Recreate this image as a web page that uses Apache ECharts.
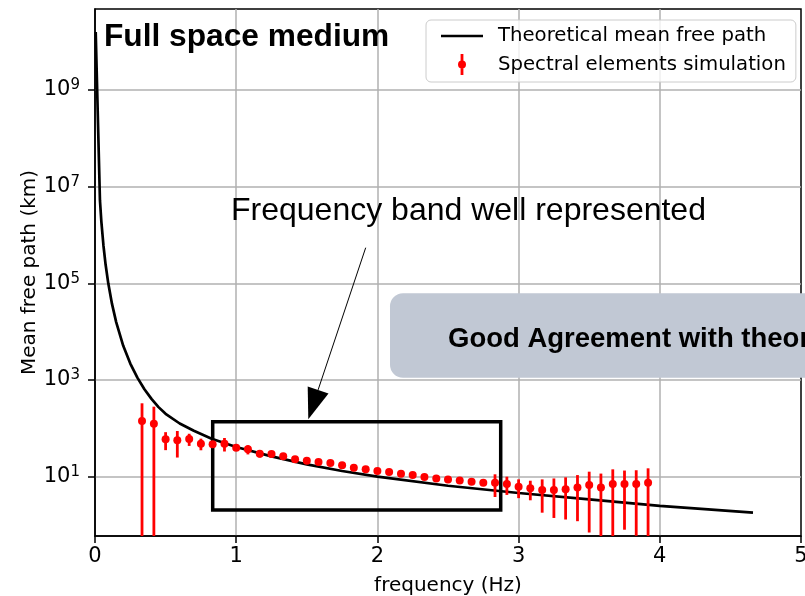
<!DOCTYPE html>
<html><head><meta charset="utf-8">
<script src="https://cdn.jsdelivr.net/npm/echarts@6/dist/echarts.min.js"></script>
<style>html,body{margin:0;padding:0;background:#fff;overflow:hidden}#c{width:805px;height:596px}</style>
</head><body><div id="c"></div>
<script>
// Theoretical mean free path (km) vs frequency (Hz)
const theoryFreq = [0.005, 0.035, 0.045, 0.06, 0.075, 0.094, 0.12, 0.15, 0.2, 0.25, 0.3, 0.35, 0.4, 0.45, 0.5, 0.6, 0.7, 0.826, 1.0, 1.25, 1.5, 1.75, 2.0, 2.5, 3.0, 3.5, 4.0, 4.66];
const theoryPath = [1.58e10, 5.25e6, 1.9e6, 6.0e5, 2.45e5, 1.0e5, 3.8e4, 1.58e4, 5.1e3, 2190, 1120, 646, 407, 275, 200, 126, 89, 61, 41.2, 26.3, 18, 13.1, 10, 6.5, 4.6, 3.4, 2.5, 1.8];

// Spectral elements simulation: frequency, mean, error (km)
const simFreq = [0.333, 0.417, 0.5, 0.583, 0.667, 0.75, 0.833, 0.917, 1.0, 1.083, 1.167, 1.25, 1.333, 1.417, 1.5, 1.583, 1.667, 1.75, 1.833, 1.917, 2.0, 2.083, 2.167, 2.25, 2.333, 2.417, 2.5, 2.583, 2.667, 2.75, 2.833, 2.917, 3.0, 3.083, 3.167, 3.25, 3.333, 3.417, 3.5, 3.583, 3.667, 3.75, 3.833, 3.917];
const simMean = [142, 125, 59.4, 56.6, 60.3, 48.2, 46.8, 48.2, 39.8, 36.9, 29.9, 29.5, 26.5, 23, 21.4, 20.1, 19.2, 17.2, 15.4, 14.2, 13.1, 12.5, 11.5, 10.8, 9.9, 9.2, 8.8, 8.3, 7.9, 7.5, 7.5, 7.1, 6.2, 5.75, 5.3, 5.3, 5.5, 6.0, 6.7, 6.0, 7.1, 7.1, 7.1, 7.5];
const simErr = [188, 156, 24, 31.7, 17, 13, 6, 15, 5, 8, 5, 2, 1.5, 1.5, 1.2, 1.2, 1.1, 1, 1, 0.9, 0.8, 0.8, 0.7, 0.7, 0.6, 0.6, 0.6, 0.6, 0.6, 0.8, 3.7, 2.9, 2.6, 2.5, 3.5, 3.9, 4.2, 4.8, 6.0, 5.6, 7.1, 6.3, 6.5, 7.4];

// Axis ticks
const xTickValues = [0, 1, 2, 3, 4, 5];
const yTickExponents = [1, 3, 5, 7, 9];
const Y_MIN = -0.227, Y_MAX = 10.676;   // log10 range of the y axis

const seriesNames = ['Theoretical mean free path', 'Spectral elements simulation'];

const chart = echarts.init(document.getElementById('c'), null, {renderer: 'canvas'});
const FONT = 'DejaVu Sans';

const theoryData = theoryFreq.map((f, i) => [f, Math.log10(theoryPath[i])]);
const simData = simFreq.map((f, i) => {
  const lo = simMean[i] - simErr[i];
  return [f, Math.log10(simMean[i]), lo > 0 ? Math.log10(lo) : Y_MIN - 1, Math.log10(simMean[i] + simErr[i])];
});

chart.setOption({
  animation: false,
  backgroundColor: '#fff',
  textStyle: {fontFamily: FONT},
  grid: {left: 95, right: 4, top: 9, bottom: 60, outerBoundsMode: 'none', containLabel: false,
         show: true, borderColor: '#000', borderWidth: 1.5, backgroundColor: 'transparent'},
  legend: {
    orient: 'vertical', left: 426, top: 20,
    itemWidth: 42, itemHeight: 21, itemGap: 8,
    padding: [6, 10, 7, 15],
    backgroundColor: 'rgba(255,255,255,0.8)', borderColor: '#cccccc', borderWidth: 1, borderRadius: 5,
    textStyle: {fontFamily: FONT, fontSize: 19.7, color: '#000', padding: [0, 0, 0, 10]},
    data: [
      {name: seriesNames[0], icon: 'path://M0,-1.35L42,-1.35L42,1.35L0,1.35Z'},
      {name: seriesNames[1], icon: 'path://M-1.4,-10.5L1.4,-10.5L1.4,10.5L-1.4,10.5Z M4,0A4,4,0,1,1,-4,0A4,4,0,1,1,4,0Z'}
    ],
    z: 20
  },
  xAxis: {
    type: 'value', min: xTickValues[0], max: xTickValues[xTickValues.length - 1], interval: 1,
    axisLine: {show: true, onZero: false, lineStyle: {color: '#000', width: 1.5}},
    axisTick: {show: true, length: 7, lineStyle: {color: '#000', width: 1.5}},
    axisLabel: {margin: 10, fontSize: 21, fontFamily: FONT, color: '#000'},
    splitLine: {show: true, showMinLine: false, showMaxLine: false, lineStyle: {color: '#b0b0b0', width: 1.5}},
    name: 'frequency (Hz)', nameLocation: 'middle', nameGap: 40, nameMoveOverlap: false,
    nameTextStyle: {fontSize: 20, fontFamily: FONT, color: '#000'}
  },
  yAxis: {
    type: 'value', min: Y_MIN, max: Y_MAX,
    axisLine: {show: true, onZero: false, lineStyle: {color: '#000', width: 1.5}},
    axisTick: {show: true, length: 7, customValues: yTickExponents, lineStyle: {color: '#000', width: 1.5}},
    axisLabel: {
      customValues: yTickExponents, margin: 15,
      formatter: v => '{b|10}{s|' + v + '}',
      rich: {
        b: {fontSize: 21, fontFamily: FONT, color: '#000', lineHeight: 24},
        s: {fontSize: 15, fontFamily: FONT, color: '#000', lineHeight: 16, verticalAlign: 'top'}
      }
    },
    splitLine: {show: true, lineStyle: {color: '#b0b0b0', width: 1.5}},
    name: 'Mean free path (km)', nameLocation: 'middle', nameGap: 55, nameMoveOverlap: false,
    nameTextStyle: {fontSize: 20, fontFamily: FONT, color: '#000'}
  },
  series: [
    {
      name: seriesNames[0], type: 'line', data: theoryData,
      symbol: 'none', lineStyle: {color: '#000', width: 2.7}, itemStyle: {color: '#000'},
      z: 2, clip: true
    },
    {
      name: seriesNames[1], type: 'custom', data: simData,
      encode: {x: 0, y: 1}, clip: true, z: 3,
      itemStyle: {color: '#ff0000'},
      renderItem: function (params, api) {
        const x = api.value(0);
        const c = api.coord([x, api.value(1)]);
        const lo = api.coord([x, Math.max(api.value(2), Y_MIN)]);
        const hi = api.coord([x, Math.min(api.value(3), Y_MAX)]);
        return {
          type: 'group',
          children: [
            {type: 'line', shape: {x1: lo[0], y1: lo[1], x2: hi[0], y2: hi[1]}, style: {stroke: '#ff0000', lineWidth: 2.8}},
            {type: 'circle', shape: {cx: c[0], cy: c[1], r: 4}, style: {fill: '#ff0000'}}
          ]
        };
      }
    }
  ],
  graphic: [
    {type: 'rect', z: 1, shape: {x: 212.7, y: 421.7, width: 288, height: 88.3}, style: {fill: 'none', stroke: '#000', lineWidth: 3.5}},
    {type: 'line', z: 10, shape: {x1: 365.7, y1: 247.7, x2: 318.1, y2: 389.9}, style: {stroke: '#000', lineWidth: 1}},
    {type: 'polygon', z: 10, shape: {points: [[308.3, 419.3], [328.5, 393.4], [307.7, 386.4]]}, style: {fill: '#000'}},
    {type: 'text', z: 10, x: 231, y: 211, style: {text: 'Frequency band well represented', fontSize: 32, fontFamily: 'Liberation Sans', fill: '#000', verticalAlign: 'middle'}},
    {type: 'text', z: 10, x: 104, y: 37, style: {text: 'Full space medium', fontSize: 31.7, fontWeight: 'bold', fontFamily: 'Liberation Sans', fill: '#000', verticalAlign: 'middle'}},
    {type: 'rect', z: 100, shape: {x: 390, y: 293.3, width: 520, height: 84.4, r: 13}, style: {fill: '#c1c8d4'}},
    {type: 'text', z: 101, x: 448, y: 339.6, style: {text: 'Good Agreement with theory', fontSize: 27.5, fontWeight: 'bold', fontFamily: 'Liberation Sans', fill: '#000', verticalAlign: 'middle'}}
  ]
});
</script>
</body></html>
